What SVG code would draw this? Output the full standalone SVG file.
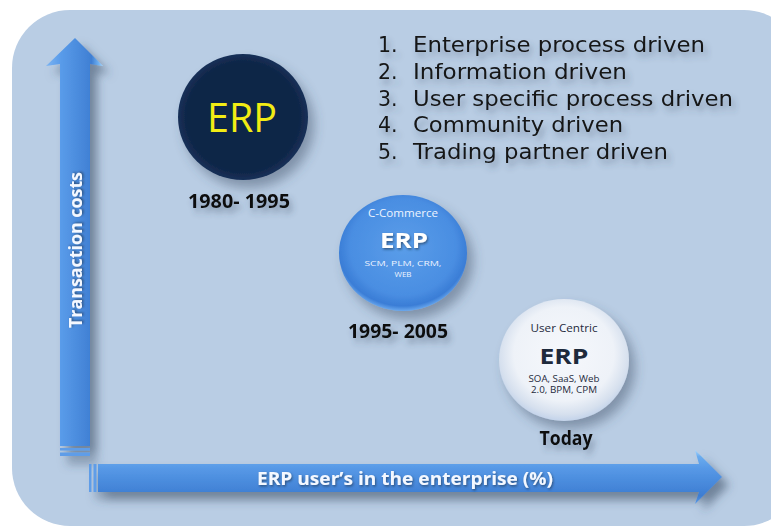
<svg xmlns="http://www.w3.org/2000/svg" width="771" height="530" viewBox="0 0 771 530">
<defs>
<style>
.cal{font-family:"Open Sans","Liberation Sans",sans-serif;}
.lst{font-family:"DejaVu Sans","Liberation Sans",sans-serif;font-size:20.5px;fill:#141414;}
.yr{font-family:"Open Sans","Liberation Sans",sans-serif;font-weight:bold;font-size:19px;fill:#111;text-anchor:middle;}
.axis{font-family:"Open Sans","Liberation Sans",sans-serif;font-weight:bold;fill:#f4f8ff;}
</style>
<filter id="tsh" x="-10%" y="-30%" width="130%" height="180%">
<feDropShadow dx="3" dy="5" stdDeviation="3" flood-color="#3a4a60" flood-opacity="0.45"/>
</filter>
<filter id="tsh2" x="-10%" y="-30%" width="130%" height="180%">
<feDropShadow dx="1" dy="1.5" stdDeviation="1" flood-color="#1a2a40" flood-opacity="0.6"/>
</filter>
<filter id="ash" x="-20%" y="-20%" width="150%" height="150%">
<feDropShadow dx="7" dy="8" stdDeviation="5" flood-color="#384a60" flood-opacity="0.55"/>
</filter>
<filter id="csh" x="-30%" y="-30%" width="170%" height="170%">
<feDropShadow dx="6" dy="8" stdDeviation="6" flood-color="#3a4b62" flood-opacity="0.45"/>
</filter>
<linearGradient id="vgrad" x1="0" y1="0" x2="1" y2="0">
<stop offset="0" stop-color="#7cb4f2"/>
<stop offset="0.25" stop-color="#5a9cea"/>
<stop offset="0.8" stop-color="#3f7fd3"/>
<stop offset="0.92" stop-color="#6fb0f0"/>
<stop offset="1" stop-color="#a6d6ff"/>
</linearGradient>
<linearGradient id="hgrad" x1="0" y1="0" x2="0" y2="1">
<stop offset="0" stop-color="#a8d8ff"/>
<stop offset="0.12" stop-color="#6aacef"/>
<stop offset="0.35" stop-color="#5698e6"/>
<stop offset="0.85" stop-color="#3d7dd2"/>
<stop offset="1" stop-color="#5a9ae6"/>
</linearGradient>
<radialGradient id="c1" cx="0.5" cy="0.5" r="0.5">
<stop offset="0.85" stop-color="#0f2546"/>
<stop offset="1" stop-color="#163058"/>
</radialGradient>
<radialGradient id="c2" cx="0.5" cy="0.45" r="0.55">
<stop offset="0" stop-color="#5a9de9"/>
<stop offset="0.75" stop-color="#4a8ee2"/>
<stop offset="0.92" stop-color="#3a7dd6"/>
<stop offset="1" stop-color="#6aa8ee"/>
</radialGradient>
<radialGradient id="c3" cx="0.5" cy="0.45" r="0.55">
<stop offset="0" stop-color="#f6f8fc"/>
<stop offset="0.7" stop-color="#eef2f8"/>
<stop offset="0.9" stop-color="#d6e0ee"/>
<stop offset="1" stop-color="#c3d3ea"/>
</radialGradient>
</defs>

<rect x="12" y="10" width="790" height="516" rx="58" ry="58" fill="#b9cde4"/>

<g id="connectors">
<g id="y-axis" filter="url(#ash)">
<path d="M60,446 L60,64 L46,66 L75,38 L103,66 L90,64 L90,446 Z" fill="url(#vgrad)"/>
<rect x="60" y="448" width="30" height="2.5" fill="#5e9de8"/>
<rect x="60" y="452.5" width="30" height="3.5" fill="#5e9de8"/>
</g>
<g id="x-axis" filter="url(#ash)">
<path d="M98,464 L699,464 L695,450 L722,477 L695,504 L699,492 L98,492 Z" fill="url(#hgrad)"/>
<rect x="89" y="464" width="2.5" height="28" fill="#5e9de8"/>
<rect x="93.5" y="464" width="3" height="28" fill="#5e9de8"/>
</g>
<text class="axis" font-size="17" transform="translate(82,250) rotate(-90)" text-anchor="middle" textLength="156" lengthAdjust="spacingAndGlyphs" filter="url(#tsh2)">Transaction costs</text>
<text class="axis" x="405" y="485" font-size="18" text-anchor="middle" textLength="296" lengthAdjust="spacingAndGlyphs" filter="url(#tsh2)">ERP user’s in the enterprise (%)</text>
</g>

<g id="list" filter="url(#tsh)">
<text class="lst" x="378" y="52">1.</text>
<text class="lst" x="413" y="52" textLength="292" lengthAdjust="spacingAndGlyphs">Enterprise process driven</text>
<text class="lst" x="378" y="79">2.</text>
<text class="lst" x="413" y="79" textLength="214" lengthAdjust="spacingAndGlyphs">Information driven</text>
<text class="lst" x="378" y="106">3.</text>
<text class="lst" x="413" y="106" textLength="320" lengthAdjust="spacingAndGlyphs">User specific process driven</text>
<text class="lst" x="378" y="132">4.</text>
<text class="lst" x="413" y="132" textLength="210" lengthAdjust="spacingAndGlyphs">Community driven</text>
<text class="lst" x="378" y="159">5.</text>
<text class="lst" x="413" y="159" textLength="255" lengthAdjust="spacingAndGlyphs">Trading partner driven</text>
</g>

<g id="erp-1980">
<ellipse cx="243" cy="117" rx="65" ry="63" fill="url(#c1)" filter="url(#csh)"/>
<text class="cal" x="242" y="132" font-size="40" fill="#f2ec14" text-anchor="middle" textLength="70" lengthAdjust="spacingAndGlyphs">ERP</text>
<text class="yr" x="239" y="208" textLength="102" lengthAdjust="spacingAndGlyphs" filter="url(#tsh)">1980- 1995</text>
</g>

<g id="erp-1995">
<ellipse cx="403" cy="253" rx="64" ry="58" fill="url(#c2)" filter="url(#csh)"/>
<text class="cal" x="403" y="217" font-size="11" fill="#eef4ff" text-anchor="middle" textLength="70" lengthAdjust="spacingAndGlyphs">C-Commerce</text>
<text class="cal" x="404" y="248" font-size="22" font-weight="bold" fill="#ffffff" text-anchor="middle" textLength="48" lengthAdjust="spacingAndGlyphs" filter="url(#tsh2)">ERP</text>
<text class="cal" x="403" y="266" font-size="8" fill="#eef4ff" text-anchor="middle" textLength="77" lengthAdjust="spacingAndGlyphs">SCM, PLM, CRM,</text>
<text class="cal" x="403" y="277" font-size="8" fill="#eef4ff" text-anchor="middle">WEB</text>
<text class="yr" x="398" y="338" textLength="100" lengthAdjust="spacingAndGlyphs" filter="url(#tsh)">1995- 2005</text>
</g>

<g id="erp-today">
<ellipse cx="564" cy="360" rx="65" ry="61" fill="url(#c3)" filter="url(#csh)"/>
<text class="cal" x="564" y="332" font-size="11" fill="#1e2a3c" text-anchor="middle" textLength="67" lengthAdjust="spacingAndGlyphs">User Centric</text>
<text class="cal" x="564" y="364" font-size="22" font-weight="bold" fill="#1e2a3c" text-anchor="middle" textLength="49" lengthAdjust="spacingAndGlyphs">ERP</text>
<text class="cal" x="564" y="382" font-size="8.5" fill="#1e2a3c" text-anchor="middle" textLength="71" lengthAdjust="spacingAndGlyphs">SOA, SaaS, Web</text>
<text class="cal" x="564" y="393" font-size="8.5" fill="#1e2a3c" text-anchor="middle" textLength="66" lengthAdjust="spacingAndGlyphs">2.0, BPM, CPM</text>
<text class="yr" x="566" y="445" textLength="53" lengthAdjust="spacingAndGlyphs" filter="url(#tsh)">Today</text>
</g>
</svg>
